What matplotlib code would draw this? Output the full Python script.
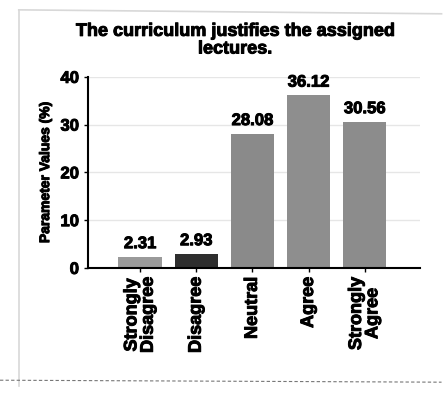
import matplotlib
matplotlib.use("Agg")
import matplotlib.pyplot as plt
import matplotlib.patheffects as pe

categories = ["Strongly\nDisagree", "Disagree", "Neutral", "Agree", "Strongly\nAgree"]
values = [2.31, 2.93, 28.08, 36.12, 30.56]
labels = ["2.31", "2.93", "28.08", "36.12", "30.56"]
colors = ["#9a9a9a", "#2e2e2e", "#8a8a8a", "#8e8e8e", "#8c8c8c"]
yticks = [0, 10, 20, 30, 40]

plt.rcParams['font.family'] = ['Liberation Sans', 'DejaVu Sans']
thick = [pe.withStroke(linewidth=0.7, foreground='black')]
fig = plt.figure(figsize=(4.46, 3.94), dpi=100)
ax = fig.add_axes([0.197, 0.320, 0.744, 0.485])
x = list(range(len(categories)))
ax.bar(x, values, width=0.77, color=colors, zorder=2)
for xi, v, lab in zip(x, values, labels):
    ax.text(xi, v + 1.2, lab, ha='center', va='bottom', fontsize=12, fontweight='bold', path_effects=thick)
ax.set_ylim(0, 40)
ax.set_xlim(-0.93, 4.98)
ax.set_yticks(yticks)
ax.set_yticklabels([str(t) for t in yticks], fontsize=12, fontweight='bold', path_effects=thick)
ax.set_xticks(x)
ax.set_xticklabels(categories, rotation=90, fontsize=13, fontweight='bold', linespacing=0.95, path_effects=thick)
ax.yaxis.grid(True, color='#e6e6e6', linewidth=1, zorder=0)
ax.axhline(30, color='#555555', linestyle=(0, (2, 2)), linewidth=0.6, xmax=0.55, zorder=1)
for s in ['top', 'right']:
    ax.spines[s].set_visible(False)
ax.spines['left'].set_linewidth(1.5)
ax.spines['bottom'].set_linewidth(1.5)
ax.tick_params(axis='both', length=3, width=1)
ax.set_ylabel("Parameter Values (%)", fontsize=10, fontweight='bold', labelpad=6, path_effects=thick)
fig.text(0.527, 0.898, "The curriculum justifies the assigned\nlectures.", ha='center', va='center',
         fontsize=13, fontweight='bold', linespacing=1.05, path_effects=thick)
# scan frame
fig.add_artist(plt.Line2D([0.042, 0.042], [0.02, 0.975], color='#d8d8d8', linewidth=1.2))
fig.add_artist(plt.Line2D([0.042, 0.99], [0.975, 0.965], color='#d8d8d8', linewidth=1.2))
fig.add_artist(plt.Line2D([0.0, 0.99], [0.035, 0.03], color='#777777', linewidth=0.8, linestyle=(0, (3, 2))))
fig.savefig("out.png", dpi=100)
